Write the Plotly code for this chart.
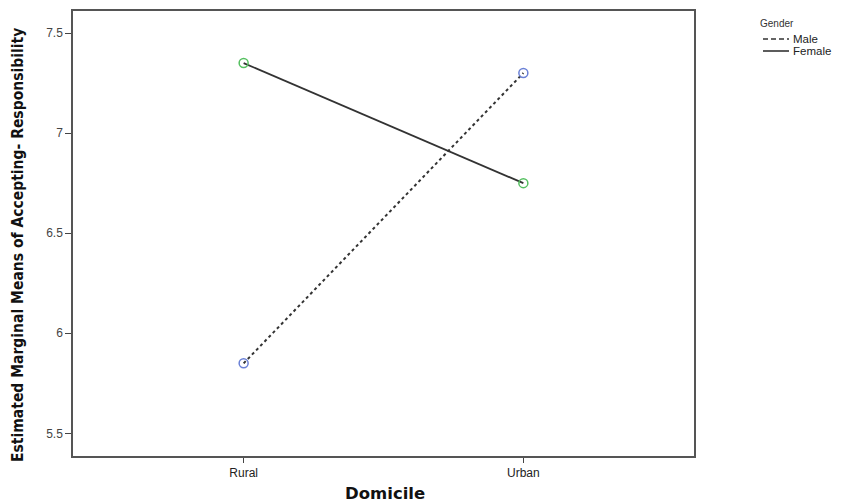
import plotly.graph_objects as go

domicile = ["Rural", "Urban"]
male_means = [5.85, 7.30]
female_means = [7.35, 6.75]
y_ticks = [5.5, 6, 6.5, 7, 7.5]
y_tick_labels = ["5.5", "6", "6.5", "7", "7.5"]
legend_title = "Gender"
legend_names = ["Male", "Female"]

x_pos = [0, 1]

# page body has an 8px margin; the figure is sized to fit the 849x503 window
OFF = 8
W, H = 849 - OFF, 503 - OFF
# plot area in page pixels: x 73..694, y 11..456
L, R, T, B = 73 - OFF, W - (694 - OFF), 11 - OFF, H - (456 - OFF)
PW, PH = W - L - R, H - T - B


def px(x):
    return (x - OFF - L) / PW


def py(y):
    return 1 - (y - OFF - T) / PH


fig = go.Figure()

fig.add_trace(go.Scatter(x=x_pos, y=male_means, mode="lines", name=legend_names[0], showlegend=False,
                         line=dict(color="#333333", width=2, dash="dot")))
fig.add_trace(go.Scatter(x=x_pos, y=female_means, mode="lines", name=legend_names[1], showlegend=False,
                         line=dict(color="#333333", width=1.8)))
fig.add_trace(go.Scatter(x=x_pos, y=male_means, mode="markers", showlegend=False,
                         marker=dict(symbol="circle-open", size=9, color="#6a80d6", line=dict(width=1.5))))
fig.add_trace(go.Scatter(x=x_pos, y=female_means, mode="markers", showlegend=False,
                         marker=dict(symbol="circle-open", size=9, color="#55c060", line=dict(width=1.5))))

fig.update_layout(
    width=W, height=H,
    margin=dict(l=L, r=R, t=T, b=B, autoexpand=False),
    plot_bgcolor="white", paper_bgcolor="white",
    font=dict(family="Liberation Sans, Arial, sans-serif", color="#222222"),
    showlegend=False,
)

fig.update_xaxes(
    range=[-0.61, 1.61],
    tickmode="array", tickvals=x_pos, ticktext=domicile,
    ticks="outside", ticklen=5, tickcolor="#444444",
    showline=True, linecolor="#555555", linewidth=1.5, mirror=True,
    showgrid=False, zeroline=False, automargin=False,
    tickfont=dict(size=12, color="#222222"),
)
fig.update_yaxes(
    range=[5.387, 7.61],
    tickmode="array", tickvals=y_ticks, ticktext=y_tick_labels,
    ticks="outside", ticklen=6, tickcolor="#444444",
    showline=True, linecolor="#555555", linewidth=1.5, mirror=True,
    showgrid=False, zeroline=False, automargin=False,
    tickfont=dict(size=12, color="#444444"),
)

# axis titles
fig.add_annotation(
    text="<b>Estimated Marginal Means of Accepting- Responsibility</b>",
    xref="paper", yref="paper", x=px(18), y=py(245), textangle=-90,
    xanchor="center", yanchor="middle", showarrow=False,
    font=dict(family="Liberation Sans Narrow, DejaVu Sans Condensed, Liberation Sans, sans-serif",
              size=15.5, color="#111111"),
)
fig.add_annotation(
    text="<b>Domicile</b>",
    xref="paper", yref="paper", x=px(385), y=py(493),
    xanchor="center", yanchor="middle", showarrow=False,
    font=dict(family="DejaVu Sans, sans-serif", size=16.5, color="#111111"),
)

# legend (drawn manually for compact SPSS-style layout)
fig.add_annotation(
    text=legend_title, xref="paper", yref="paper", x=px(777), y=py(23),
    xanchor="center", yanchor="middle", showarrow=False,
    font=dict(size=10, color="#333333"),
)
legend_rows = [(39, "5px,3px"), (51, "solid")]
for name, (row_y, dash) in zip(legend_names, legend_rows):
    fig.add_shape(type="line", xref="paper", yref="paper",
                  x0=px(763), x1=px(789), y0=py(row_y), y1=py(row_y),
                  line=dict(color="#333333", width=1.6, dash=dash))
    fig.add_annotation(
        text=name, xref="paper", yref="paper", x=px(791), y=py(row_y),
        xanchor="left", yanchor="middle", showarrow=False,
        font=dict(size=11.5, color="#222222"),
    )

fig.write_html("out.html")
